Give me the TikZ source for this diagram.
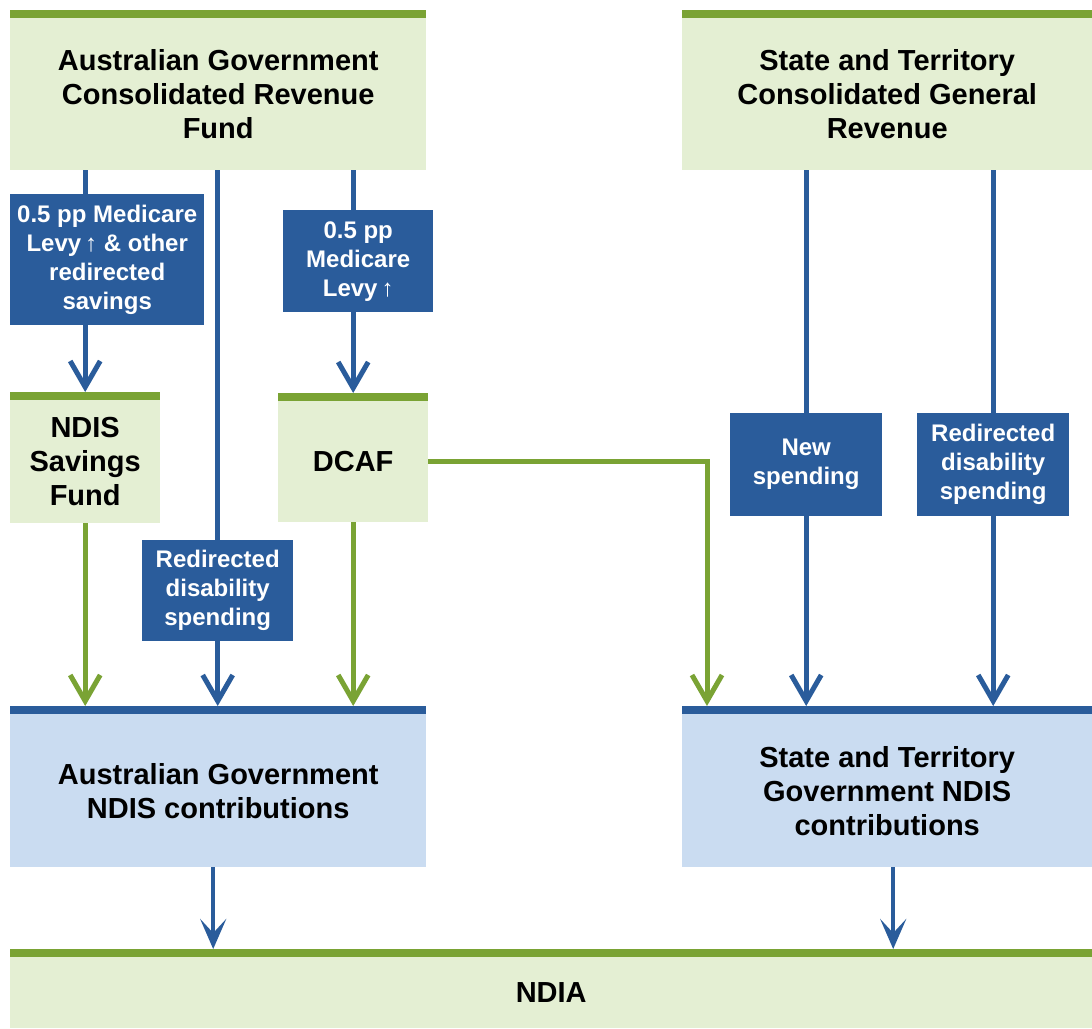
\documentclass[tikz,border=0pt]{standalone}
\usepackage{fontspec}
\setmainfont{Liberation Sans}
\usetikzlibrary{arrows.meta, positioning}
\definecolor{barGreen}{RGB}{122,163,52}
\definecolor{fundGreen}{RGB}{228,239,211}
\definecolor{flowBlue}{RGB}{42,92,155}
\definecolor{paleBlue}{RGB}{202,220,241}
\pgfdeclarelayer{back}
\pgfdeclarelayer{flows}
\pgfsetlayers{back,flows,main}

\tikzset{
  fund/.style={fill=fundGreen, inner sep=0pt, anchor=north west, align=center,
    font=\fontsize{29}{34}\selectfont\bfseries},
  contrib/.style={fund, fill=paleBlue},
  tag/.style={fill=flowBlue, text=white, inner sep=0pt, anchor=north west, align=center,
    font=\fontsize{24}{29}\selectfont\bfseries},
  blueflow/.style={draw=flowBlue, line width=5pt, -{Straight Barb[length=26pt, width=30pt]}},
  greenflow/.style={draw=barGreen, line width=5pt, -{Straight Barb[length=26pt, width=30pt]}},
  ndiaflow/.style={draw=flowBlue, line width=4pt, -{Stealth[length=30pt, width=26pt, inset=14pt]}}
}

\begin{document}
\begin{tikzpicture}[x=1pt, y=-1pt]
    \begin{pgfonlayer}{back}
    \fill[white] (0,0) rectangle (1092,1028);
    \end{pgfonlayer}
    \useasboundingbox (0,0) rectangle (1092,1028);

    % revenue sources and funds
    \node[fund, minimum width=416pt, minimum height=152pt] (crf) at (10,18)
        {Australian Government\\Consolidated Revenue\\Fund};
    \node[fund, minimum width=410pt, minimum height=152pt] (scgr) at (682,18)
        {State and Territory\\Consolidated General\\Revenue};
    \node[fund, minimum width=150pt, minimum height=123pt] (nsf) at (10,400)
        {NDIS\\Savings\\Fund};
    \node[fund, minimum width=150pt, minimum height=121pt] (dcaf) at (278,401) {DCAF};

    % contributions
    \node[contrib, minimum width=416pt, minimum height=153pt] (agc) at (10,714)
        {Australian Government\\NDIS contributions};
    \node[contrib, minimum width=410pt, minimum height=153pt] (stc) at (682,714)
        {State and Territory\\Government NDIS\\contributions};
    \node[fund, minimum width=1082pt, minimum height=71pt] (ndia) at (10,957)
        {\raisebox{-5pt}{NDIA}};

    % bars on top of the boxes
    \foreach \b in {crf, scgr, nsf, dcaf, ndia}
        \fill[barGreen] ([yshift=8pt]\b.north west) rectangle (\b.north east);
    \foreach \b in {agc, stc}
        \fill[flowBlue] ([yshift=8pt]\b.north west) rectangle (\b.north east);

    % labels on the flows
    \node[tag, minimum width=194pt, minimum height=131pt] (levyA) at (10,194)
        {0.5 pp Medicare\\Levy\,↑ \& other\\redirected\\savings};
    \node[tag, minimum width=150pt, minimum height=102pt] (levyB) at (283,210)
        {0.5 pp\\Medicare\\Levy\,↑};
    \node[tag, minimum width=151pt, minimum height=101pt] (redirA) at (142,540)
        {Redirected\\disability\\spending};
    \node[tag, minimum width=152pt, minimum height=103pt] (newsp) at (730,413)
        {New\\spending};
    \node[tag, minimum width=152pt, minimum height=103pt] (redirB) at (917,413)
        {Redirected\\disability\\spending};

    \begin{pgfonlayer}{flows}
    % blue flows
    \draw[blueflow] (crf.south -| nsf.north) -- ([yshift=8pt]nsf.north);
    \draw[blueflow] (crf.south -| redirA) -- ([yshift=8pt]agc.north -| redirA);
    \draw[blueflow] (crf.south -| dcaf) -- ([yshift=8pt]dcaf.north);
    \draw[blueflow] (scgr.south -| newsp) -- ([yshift=8pt]stc.north -| newsp);
    \draw[blueflow] (scgr.south -| redirB) -- ([yshift=8pt]stc.north -| redirB);

    % green flows
    \draw[greenflow] (nsf.south) -- ([yshift=8pt]agc.north -| nsf.south);
    \draw[greenflow] (dcaf.south) -- ([yshift=8pt]agc.north -| dcaf.south);
    \draw[greenflow] (dcaf.east) -| ([xshift=25pt, yshift=8pt]stc.north west);

    % to the NDIA
    \draw[ndiaflow] ([xshift=-5pt]agc.south) -- ([xshift=-5pt, yshift=8pt]ndia.north -| agc.south);
    \draw[ndiaflow] ([xshift=6pt]stc.south) -- ([xshift=6pt, yshift=8pt]ndia.north -| stc.south);
    \end{pgfonlayer}
\end{tikzpicture}
\end{document}
